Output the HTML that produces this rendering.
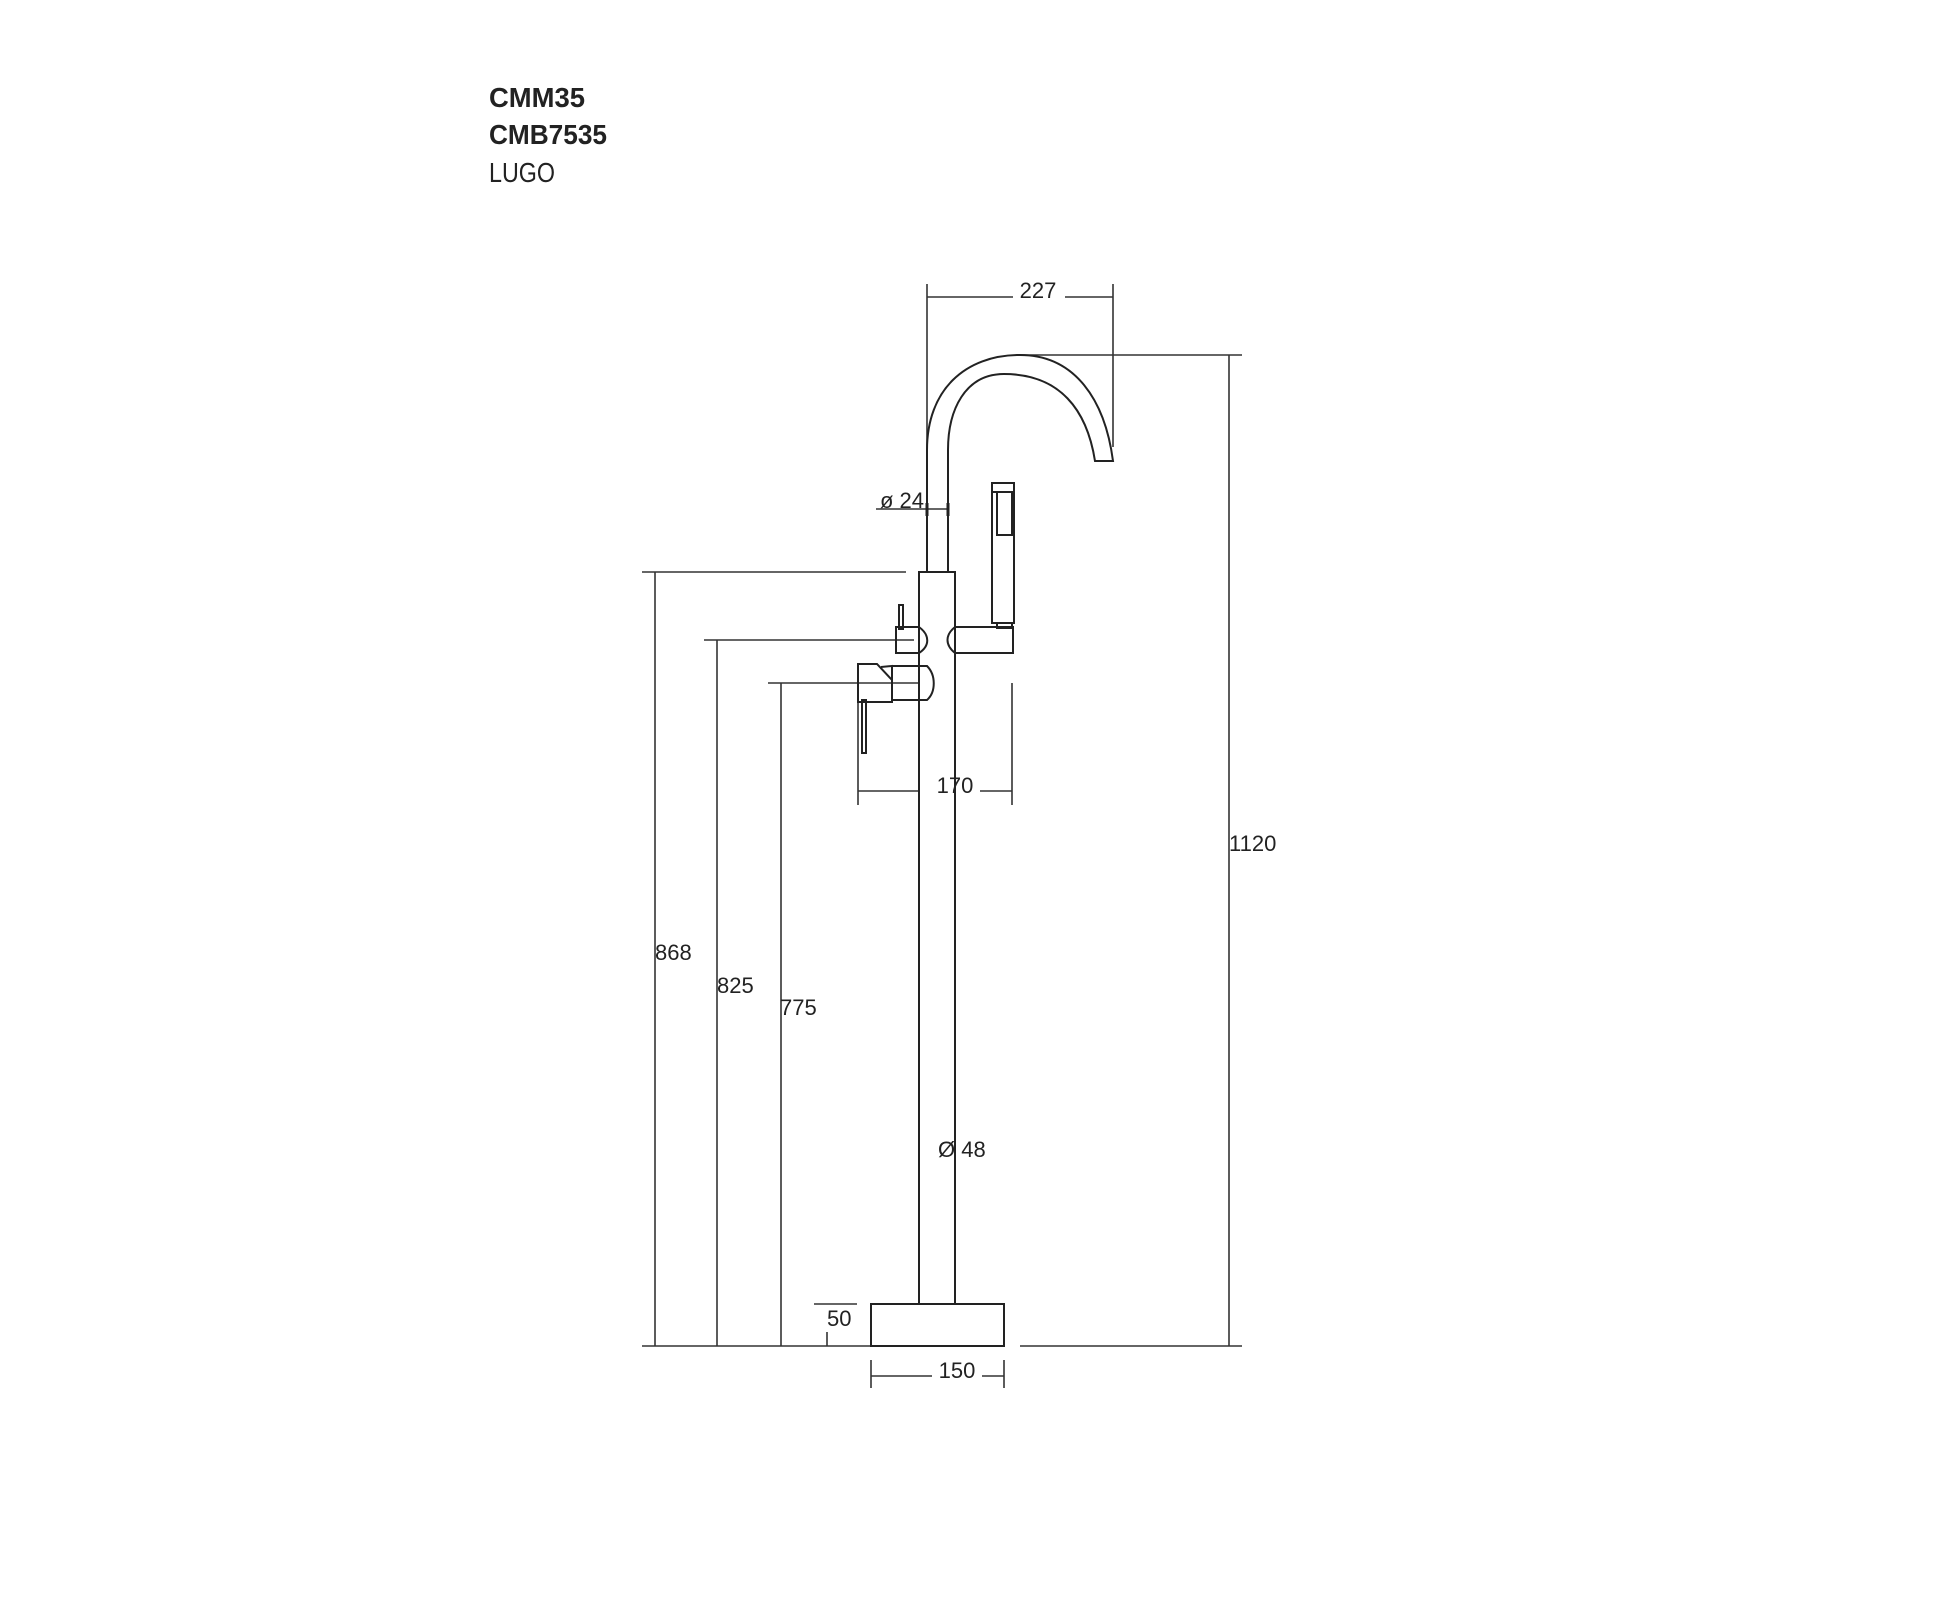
<!DOCTYPE html>
<html><head><meta charset="utf-8"><style>
html,body{margin:0;padding:0;background:#fff;}
svg{display:block;}
text{font-family:"Liberation Sans",Arial,sans-serif;fill:#222;}
</style></head><body>
<svg width="1956" height="1600" viewBox="0 0 1956 1600" xmlns="http://www.w3.org/2000/svg">
<g font-size="28">
<text x="489" y="107" font-weight="bold" textLength="96" lengthAdjust="spacingAndGlyphs">CMM35</text>
<text x="489" y="144" font-weight="bold" textLength="118" lengthAdjust="spacingAndGlyphs">CMB7535</text>
<text x="489" y="182" textLength="66" lengthAdjust="spacingAndGlyphs">LUGO</text>
</g>
<g fill="none" stroke="#333" stroke-width="1.6">
<!-- dimension lines -->
<line x1="927" y1="284" x2="927" y2="450"/>
<line x1="1113" y1="284" x2="1113" y2="447"/>
<line x1="927" y1="297" x2="1013" y2="297"/>
<line x1="1065" y1="297" x2="1113" y2="297"/>
<line x1="1020" y1="355" x2="1242" y2="355"/>
<line x1="1229" y1="355" x2="1229" y2="1346"/>
<line x1="876" y1="509" x2="948" y2="509"/>
<line x1="642" y1="572" x2="906" y2="572"/>
<line x1="655" y1="572" x2="655" y2="1346"/>
<line x1="704" y1="640" x2="914" y2="640"/>
<line x1="717" y1="640" x2="717" y2="1346"/>
<line x1="768" y1="683" x2="920" y2="683"/>
<line x1="781" y1="683" x2="781" y2="1346"/>
<line x1="858" y1="702" x2="858" y2="805"/>
<line x1="1012" y1="683" x2="1012" y2="805"/>
<line x1="858" y1="791" x2="920" y2="791"/>
<line x1="980" y1="791" x2="1012" y2="791"/>
<line x1="642" y1="1346" x2="871" y2="1346"/>
<line x1="1020" y1="1346" x2="1242" y2="1346"/>
<line x1="814" y1="1304" x2="857" y2="1304"/>
<line x1="827" y1="1332" x2="827" y2="1346"/>
<line x1="871" y1="1360" x2="871" y2="1388"/>
<line x1="1004" y1="1360" x2="1004" y2="1388"/>
<line x1="871" y1="1376" x2="932" y2="1376"/>
<line x1="982" y1="1376" x2="1004" y2="1376"/>
</g>
<g fill="none" stroke="#222" stroke-width="2">
<!-- spout -->
<path d="M927 572 L927 450 C927 390 965 355 1020 355 C1075 355 1105 400 1113 461 L1095 461 C1087 410 1060 374 1004 374 C965 374 948 410 948 450 L948 572"/>
<line x1="927" y1="503" x2="927" y2="516" stroke-width="3"/>
<line x1="948" y1="503" x2="948" y2="516" stroke-width="3"/>
<!-- hand shower -->
<rect x="992" y="483" width="22" height="140"/>
<line x1="992" y1="492" x2="1014" y2="492"/>
<rect x="997" y="492" width="15" height="43"/>
<rect x="997" y="623" width="15" height="5"/>
<!-- body -->
<path d="M919 1304 L919 572 L955 572 L955 1304"/>
<!-- upper valve -->
<path d="M919 627 L896 627 L896 653 L919 653 M919 627 C930 635 930 646 919 653"/>
<rect x="899" y="605" width="4" height="24"/>
<!-- holder -->
<path d="M955 627 L1013 627 L1013 653 L955 653 C945 645 945 635 955 627"/>
<!-- lower valve -->
<path d="M919 666 L927 666 C936 675 936 692 927 700 L919 700"/>
<path d="M892 666 L919 666 M892 700 L919 700 M892 666 L892 702"/>
<path d="M858 664 L877 664 L892 680 L892 702 L858 702 Z"/>
<path d="M881 667 L892 666 L892 680"/>
<rect x="862" y="700" width="4" height="53"/>
<!-- base -->
<rect x="871" y="1304" width="133" height="42"/>
</g>
<g font-size="22">
<text x="1038" y="298" text-anchor="middle">227</text>
<text x="880" y="508">ø 24</text>
<text x="955" y="793" text-anchor="middle">170</text>
<text x="1229" y="851">1120</text>
<text x="655" y="960">868</text>
<text x="717" y="993">825</text>
<text x="780" y="1015">775</text>
<text x="938" y="1157">Ø 48</text>
<text x="827" y="1326">50</text>
<text x="957" y="1378" text-anchor="middle">150</text>
</g>
</svg>
</body></html>
